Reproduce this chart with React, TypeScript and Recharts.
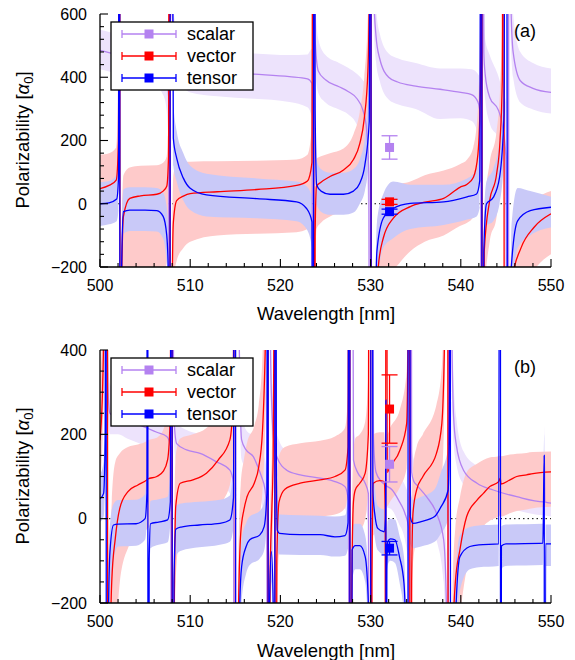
import React from 'react';
import { ComposedChart, Line, Area, Scatter, ErrorBar, XAxis, YAxis } from 'recharts';

const FONT = '"Liberation Sans", Arial, Helvetica, sans-serif';
const SCALAR = '#b482f0';
const VECTOR = '#ff0000';
const TENSOR = '#0000ff';
const SCALAR_BAND = '#ede3fc';
const VECTOR_BAND = '#fecaca';
const TENSOR_BAND = '#c9c9f8';

const seriesNames = ['scalar', 'vector', 'tensor'];

// tick positions
const xTicks = [500, 502, 504, 506, 508, 510, 512, 514, 516, 518, 520, 522, 524, 526, 528, 530, 532, 534, 536, 538, 540, 542, 544, 546, 548, 550];
const xMajor = [500, 510, 520, 530, 540, 550];
const yTicksA = [-200, -160, -120, -80, -40, 0, 40, 80, 120, 160, 200, 240, 280, 320, 360, 400, 440, 480, 520, 560, 600];
const yMajorA = [-200, 0, 200, 400, 600];
const yTicksB = [-200, -150, -100, -50, 0, 50, 100, 150, 200, 250, 300, 350, 400];
const yMajorB = [-200, 0, 200, 400];

// [wavelength, value, band low, band high]
type Row = [number, number, number, number];

// ---- panel (a) ----
const aScalar: Row[] = [
  [500, 485, 425, 550], [501, 478, 418, 543], [502, 470, 410, 535], [503, 463, 402, 528], [505, 452, 390, 516],
  [506, 445, 380, 510], [506.8, 432, 355, 502], [507.3, 410, 315, 492], [507.6, 340, 190, 470], [507.72, -3000, -3100, -2900],
  [507.8, 3000, 2900, 3100], [507.95, 650, 560, 800], [508.2, 520, 450, 600], [508.6, 465, 400, 540], [509.2, 440, 370, 505],
  [510, 428, 352, 490], [513, 418, 340, 480], [517, 410, 332, 475], [521, 402, 322, 470], [523, 395, 305, 472],
  [523.5, 380, 270, 490], [523.66, -3000, -3100, -2900],
  [523.74, 3000, 2900, 3100], [523.85, 520, 430, 650], [524.2, 420, 350, 520], [525, 392, 320, 470], [526.5, 370, 298, 445],
  [527.5, 355, 283, 430], [528.5, 332, 248, 410], [529.1, 300, 195, 392], [529.5, 250, 120, 375], [529.8, 100, -120, 310],
  [529.95, -3000, -3100, -2900],
  [530.05, 3000, 2900, 3100], [530.3, 700, 600, 850], [530.6, 530, 450, 620], [531, 460, 390, 540], [532, 400, 330, 475],
  [533, 385, 315, 460], [535, 372, 300, 445], [537.7, 362, 268, 428], [540, 352, 270, 428], [541.2, 345, 262, 425],
  [541.9, 322, 220, 410], [542.2, 270, 110, 390], [542.33, -3000, -3100, -2900],
  [542.4, 3000, 2900, 3100], [542.55, 480, 390, 620], [542.7, 410, 330, 520], [543.2, 337, 255, 470], [544.2, 294, 200, 400],
  [544.5, 263, 150, 370], [545.0, 150, -20, 320], [545.25, -3000, -3100, -2900],
  [545.35, 3000, 2900, 3100], [545.5, 700, 560, 900], [545.8, 480, 400, 600], [546.6, 389, 320, 480], [548, 365, 298, 445],
  [550, 352, 285, 428],
];

const aVector: Row[] = [
  [500, 48, -60, 155], [501, 58, -50, 160], [501.8, 75, -40, 178], [502.05, 200, 50, 400], [502.17, 3000, 2900, 3100],
  [502.25, -3000, -3100, -2900], [502.4, -250, -450, -100], [502.6, -40, -240, 90], [503.3, 17, -235, 115], [504.5, 25, -232, 120],
  [506.3, 30, -228, 122], [507.0, 40, -215, 130], [507.4, 55, -185, 150], [507.6, 150, -100, 300], [507.72, 3000, 2900, 3100],
  [507.82, -3000, -3100, -2900], [508.0, -300, -600, -120], [508.13, -60, -250, 90], [508.5, 10, -180, 130], [509.24, 24, -140, 132],
  [510, 32, -120, 133], [513, 38, -100, 134], [517.4, 45, -95, 136], [521.8, 58, -90, 140], [523, 72, -80, 155],
  [523.5, 130, -40, 250], [523.66, 3000, 2900, 3100],
  [523.74, -3000, -3100, -2900], [523.85, -100, -300, 40], [524.0, 55, -80, 142], [524.5, 68, -60, 150], [525.5, 86, -40, 160],
  [527, 107, -20, 175], [528.1, 140, 10, 220], [528.8, 190, 60, 290], [529.3, 270, 130, 400], [529.7, 420, 250, 600],
  [529.9, 800, 600, 1200], [530.02, 3000, 2900, 3100],
  [530.1, -3000, -3100, -2900], [530.5, -600, -900, -400], [530.85, -200, -350, -70], [531.4, -109, -240, 10], [532.5, -46, -210, 55],
  [534.4, -9, -150, 70], [536, 5, -120, 90], [538.1, 17, -100, 105], [539.9, 52, -70, 125], [540.7, 62, -60, 140],
  [541.4, 84, -40, 180], [541.9, 157, 20, 300], [542.2, 389, 200, 700], [542.32, 3000, 2900, 3100],
  [542.38, -3000, -3100, -2900], [542.6, -150, -300, -30], [543.2, 10, -120, 130], [543.97, 94, -40, 230], [544.35, 200, 60, 360],
  [544.6, 389, 250, 600], [544.75, 3000, 2900, 3100],
  [544.85, -3000, -3100, -2900], [545.2, -800, -1100, -600], [545.6, -250, -400, -150], [546.7, -138, -280, -40], [548.1, -75, -210, 10],
  [550, -32, -160, 40],
];

const aTensor: Row[] = [
  [500, 0, -70, 68], [501, 3, -65, 72], [501.85, 15, -55, 92], [502.05, 80, -20, 200], [502.15, 3000, 2900, 3100],
  [502.25, -3000, -3100, -2900], [502.4, -200, -350, -120], [502.6, -25, -95, 45], [503.3, -20, -86, 52], [505, -20, -86, 52],
  [506.3, -22, -88, 50], [507.0, -40, -110, 35], [507.4, -100, -190, -10], [507.6, -250, -400, -120], [507.72, -3000, -3100, -2900],
  [507.82, 3000, 2900, 3100], [508.13, 207, 120, 320], [508.5, 144, 70, 230], [509.24, 81, 10, 160], [510, 49, -20, 120],
  [511.8, 28, -40, 95], [517.4, 16, -46, 80], [521.8, 6, -55, 70], [522.9, -15, -80, 55], [523.5, -57, -140, 20],
  [523.63, -3000, -3100, -2900],
  [523.72, 3000, 2900, 3100], [523.85, 300, 200, 450], [524.02, 59, 0, 140], [524.5, 40, -25, 110], [525.5, 30, -35, 98],
  [527, 30, -35, 98], [528.1, 40, -28, 110], [528.8, 65, 0, 140], [529.36, 122, 40, 210], [529.85, 260, 150, 420],
  [530.0, 3000, 2900, 3100],
  [530.1, -3000, -3100, -2900], [530.5, -500, -800, -350], [530.7, -150, -280, -60], [531.4, -46, -140, 30], [532.5, -15, -109, 70],
  [534.4, 1, -80, 60], [538.1, 6, -67, 60], [540.7, 22, -50, 80], [541.75, 31, -40, 110], [542.1, 73, -10, 200],
  [542.3, 3000, 2900, 3100],
  [542.37, -3000, -3100, -2900], [542.55, -150, -300, -50], [542.85, 0, -70, 70], [543.6, 20, -55, 110], [544.3, 84, 0, 200],
  [544.8, 284, 150, 450], [544.95, 3000, 2900, 3100],
  [545.35, -3000, -3100, -2900], [545.6, -200, -350, -80], [546.3, -54, -140, 50], [547.7, -22, -100, 40], [550, -11, -75, 22],
];

// measured points at 532 nm: [wavelength, value, error]
const aMeasured: [number, number, number][] = [[532.1, 178, 37], [532.1, 6, 8], [532.1, -25, 8]];

// ---- panel (b) ----
const bScalar: Row[] = [
  [500, 1200, 1100, 1400], [500.6, 3000, 2900, 3100], [500.75, 600, 480, 800], [500.9, 300, 240, 400], [501.1, 250, 200, 320],
  [502, 238, 200, 290], [503, 230, 190, 275], [504.4, 222, 178, 265], [505.2, 215, 170, 258], [506.3, 205, 160, 250],
  [507.4, 195, 148, 240], [507.85, 170, 100, 225], [507.97, -3000, -3100, -2900],
  [508.03, 3000, 2900, 3100], [508.15, 260, 200, 350], [508.5, 178, 128, 228], [509.6, 163, 115, 210], [511.1, 155, 105, 200],
  [512.9, 135, 85, 185], [514.4, 115, 60, 170], [514.8, 84, 0, 150], [514.95, -3000, -3100, -2900],
  [515.1, 3000, 2900, 3100], [515.35, 600, 450, 800], [515.7, 187, 140, 250], [516.2, 163, 120, 210], [517.0, 147, 100, 195],
  [517.5, 123, 75, 175], [517.9, 100, 40, 160], [518.3, 68, -20, 140], [518.5, 5, -150, 100], [518.6, -3000, -3100, -2900],
  [518.7, 3000, 2900, 3100], [518.9, 400, 300, 550], [519.2, 200, 150, 280], [519.6, 147, 105, 200], [520.7, 115, 75, 160],
  [522.2, 104, 65, 150], [524.4, 96, 55, 140], [526.05, 88, 45, 135], [527.16, 76, 25, 130], [527.55, 40, -50, 110],
  [527.68, -3000, -3100, -2900],
  [527.75, 3000, 2900, 3100], [528.1, 139, 90, 220], [528.6, 108, 60, 165], [529.4, 84, 30, 140], [529.75, 60, -20, 130],
  [529.95, -3000, -3100, -2900],
  [530.05, 3000, 2900, 3100], [530.3, 200, 140, 300], [530.6, 110, 60, 170], [531.2, 88, 40, 140], [531.6, 80, 30, 130],
  [532.4, 68, 20, 120], [533.1, 44, -10, 100], [533.8, 13, -50, 80], [534.2, -20, -120, 50], [534.3, -3000, -3100, -2900],
  [534.4, 3000, 2900, 3100], [534.55, 110, 60, 170], [534.8, 88, 40, 140], [535.1, 80, 30, 130], [536.2, 52, 0, 110],
  [537.3, 13, -50, 80], [538.1, -50, -150, 30], [538.4, -200, -400, -80], [538.55, -3000, -3100, -2900],
  [538.7, 3000, 2900, 3100], [538.9, 700, 500, 1000], [539.2, 242, 180, 330], [539.5, 175, 130, 240], [540.3, 115, 80, 160],
  [541.8, 84, 50, 125], [543.6, 68, 35, 108], [546.2, 52, 20, 90], [549.2, 40, 8, 78], [549.27, 150, 100, 220],
  [549.32, 40, 8, 78], [550, 37, 5, 75],
];

const bVector: Row[] = [
  [500, 186, 90, 330], [500.3, 320, 200, 500], [500.55, 700, 500, 1000], [500.8, 3000, 2900, 3100],
  [500.88, -3000, -3100, -2900], [501.0, -600, -900, -380], [501.3, -150, -400, 40], [501.7, -46, -300, 135], [502.2, 25, -150, 155],
  [503.1, 64, -70, 170], [504.2, 80, -40, 176], [505.2, 92, -25, 184], [505.3, 94, -22, 186], [506.3, 100, -12, 192],
  [507.0, 112, 0, 210], [507.5, 140, 30, 260], [507.8, 250, 120, 450], [507.95, 3000, 2900, 3100],
  [508.05, -3000, -3100, -2900], [508.2, -300, -600, -100], [508.4, 30, -150, 150], [508.9, 84, -40, 190], [510.3, 92, -20, 200],
  [511.8, 108, 0, 215], [513.1, 139, 30, 250], [514.4, 187, 80, 320], [514.8, 300, 170, 500], [514.97, 3000, 2900, 3100],
  [515.05, -3000, -3100, -2900], [515.3, -300, -500, -150], [515.6, -35, -180, 80], [515.95, 21, -110, 140], [516.3, 52, -70, 180],
  [517.1, 84, -30, 220], [517.6, 123, 0, 270], [518.0, 203, 60, 380], [518.4, 500, 300, 800], [518.55, 3000, 2900, 3100],
  [518.7, -3000, -3100, -2900], [518.85, -150, -300, 0], [519.05, 20, -120, 150], [519.2, 150, 20, 300], [519.3, 500, 300, 800],
  [519.37, 3000, 2900, 3100],
  [519.45, -3000, -3100, -2900], [519.6, -100, -250, 20], [519.85, 40, -80, 150], [520.5, 70, -30, 170], [522.2, 84, 0, 179],
  [524.4, 92, 5, 185], [526.05, 100, 10, 195], [527.16, 115, 25, 215], [527.5, 170, 70, 300], [527.65, 3000, 2900, 3100],
  [527.75, -3000, -3100, -2900], [527.9, -200, -400, -50], [528.1, 40, -100, 160], [528.3, 68, -50, 190], [528.8, 84, -30, 200],
  [529.4, 108, 0, 230], [529.75, 200, 80, 350], [529.95, 3000, 2900, 3100],
  [530.05, -3000, -3100, -2900], [530.15, -150, -300, 0], [530.3, 84, -40, 200], [531.0, 90, -30, 205], [531.5, 88, -30, 205],
  [531.62, 20, -100, 150], [531.66, -3000, -3100, -2900],
  [531.7, 3000, 2900, 3100], [531.85, 110, 30, 200], [532.15, 123, 40, 215], [533.26, 163, 75, 260], [534.0, 226, 120, 350],
  [534.2, 600, 400, 900], [534.3, 3000, 2900, 3100],
  [534.4, -3000, -3100, -2900], [534.55, -150, -300, -30], [534.7, 13, -110, 120], [535.1, 68, -50, 170], [535.8, 100, -10, 200],
  [537.3, 155, 40, 270], [537.9, 226, 100, 360], [538.25, 500, 350, 800], [538.5, 3000, 2900, 3100],
  [538.65, -3000, -3100, -2900], [539.1, -300, -500, -150], [539.4, -150, -330, -20], [539.9, -74, -230, 50], [540.65, 5, -120, 110],
  [541.8, 44, -50, 130], [542.5, 60, -19, 139], [543.2, 76, -5, 145], [544.2, 88, 5, 148], [544.38, 96, 8, 150],
  [544.45, 82, 5, 148], [545.45, 92, 13, 152], [546.2, 100, 18, 154], [547.3, 104, 22, 156], [548, 107, 25, 158],
  [550, 111, 28, 159],
];

const bTensor: Row[] = [
  [500, 47, -8, 105], [500.4, 60, 5, 135], [500.58, 200, 100, 400], [500.66, 3000, 2900, 3100],
  [500.72, -3000, -3100, -2900], [500.9, -300, -500, -160], [501.1, -80, -190, -15], [501.5, -15, -100, 35], [502, -13, -66, 44],
  [504, -12, -64, 45], [505, 0, -50, 58], [505.2, 60, 0, 150], [505.28, 3000, 2900, 3100],
  [505.34, -3000, -3100, -2900], [505.45, -100, -200, -35], [505.6, -12, -70, 42], [506.5, -8, -62, 46], [507.5, -3, -56, 52],
  [507.8, 40, -10, 130], [507.95, 3000, 2900, 3100],
  [508.05, -3000, -3100, -2900], [508.2, -150, -300, -60], [508.4, -25, -88, 30], [509, -20, -76, 36], [511, -15, -68, 40],
  [513.3, -11, -62, 45], [514.4, -3, -55, 55], [514.8, 50, -20, 150], [514.96, 3000, 2900, 3100],
  [515.1, -3000, -3100, -2900], [515.5, -200, -340, -110], [515.7, -114, -200, -50], [516.2, -66, -130, -10], [516.6, -50, -110, 5],
  [517.7, -39, -95, 18], [518.2, -19, -75, 40], [518.5, 60, 0, 150], [518.6, 3000, 2900, 3100],
  [518.68, -3000, -3100, -2900], [518.8, -200, -340, -110], [519.0, -78, -150, -30], [519.2, -200, -310, -110],
  [519.35, -3000, -3100, -2900],
  [519.42, 3000, 2900, 3100], [519.55, 150, 80, 300], [519.65, -27, -75, 20], [519.9, -35, -85, 10], [522.2, -38, -86, 8],
  [524.4, -38, -86, 7], [526.05, -43, -90, 5], [527.16, -40, -88, 8], [527.5, -10, -70, 50], [527.65, 3000, 2900, 3100],
  [527.75, -3000, -3100, -2900], [527.95, -74, -150, -20], [528.3, -64, -120, -12], [528.8, -64, -120, -12], [529.4, -90, -150, -40],
  [529.75, -200, -300, -130], [529.95, -3000, -3100, -2900],
  [530.08, 3000, 2900, 3100], [530.25, 68, 0, 150], [530.5, 5, -50, 70], [530.8, -23, -75, 30], [531.5, -31, -85, 22],
  [531.65, 0, -60, 60], [531.7, 281, 200, 350], [531.72, -3000, -3100, -2900],
  [531.8, -120, -200, -60], [531.9, -55, -110, -5], [532.2, -48, -100, 0], [532.7, -50, -105, -2], [533.2, -90, -150, -40],
  [533.7, -153, -230, -90], [534.0, -400, -550, -300], [534.1, -3000, -3100, -2900],
  [534.2, 3000, 2900, 3100], [534.4, 5, -60, 80], [534.7, -11, -70, 45], [535.6, -7, -66, 52], [537.1, 5, -55, 70],
  [537.8, 28, -35, 110], [538.6, 68, 0, 170], [538.75, 300, 200, 500], [538.8, 3000, 2900, 3100],
  [538.9, -3000, -3100, -2900], [539.4, -250, -400, -150], [539.9, -90, -170, -40], [541.0, -66, -120, -20], [542, -62, -115, -16],
  [544.2, -60, -112, -14], [544.38, 3000, 2900, 3100],
  [544.42, -3000, -3100, -2900], [544.5, -65, -118, -18], [545, -60, -112, -14], [549.1, -58, -110, -12], [549.25, 150, 100, 200],
  [549.3, -3000, -3100, -2900], [549.4, -60, -112, -14], [550, -60, -112, -14],
];

const bMeasured: [number, number, number][] = [[532.1, 129, 42], [532.1, 260, 81], [532.1, -70, 16]];

const zeroLine = [{ wl: 500, z: 0 }, { wl: 550, z: 0 }];

const toPoints = (rows: Row[]) => rows.map(([wl, v, lo, hi]) => ({ wl, v, band: [lo, hi] }));
const fmt = (v: number) => (v < 0 ? `\u2212${Math.abs(v)}` : `${v}`);
const frame = { stroke: '#000', strokeWidth: 1.3 };

const bottomTick = (p: any) => {
  const { x, y, payload } = p;
  const major = xMajor.includes(payload.value);
  return (
    <g>
      <line x1={x} x2={x} y1={y} y2={y - (major ? 8 : 4)} stroke="#000" strokeWidth={1.1} />
      {major && (
        <text x={x} y={y + 24} textAnchor="middle" fontSize={16} fontFamily={FONT} fill="#000">
          {payload.value}
        </text>
      )}
    </g>
  );
};

const topTick = (p: any) => {
  const { x, y, payload } = p;
  const major = xMajor.includes(payload.value);
  return <line x1={x} x2={x} y1={y} y2={y + (major ? 8 : 4)} stroke="#000" strokeWidth={1.1} />;
};

const leftTick = (majors: number[]) => (p: any) => {
  const { x, y, payload } = p;
  const major = majors.includes(payload.value);
  return (
    <g>
      <line x1={x} x2={x + (major ? 8 : 4)} y1={y} y2={y} stroke="#000" strokeWidth={1.1} />
      {major && (
        <text x={x - 13} y={y} dy="0.36em" textAnchor="end" fontSize={16} fontFamily={FONT} fill="#000">
          {fmt(payload.value)}
        </text>
      )}
    </g>
  );
};

const rightTick = (majors: number[]) => (p: any) => {
  const { x, y, payload } = p;
  const major = majors.includes(payload.value);
  return <line x1={x} x2={x - (major ? 8 : 4)} y1={y} y2={y} stroke="#000" strokeWidth={1.1} />;
};

const squareShape = (color: string) => (p: any) => (
  <rect x={p.cx - 4.5} y={p.cy - 4.5} width={9} height={9} fill={color} />
);

interface PanelProps {
  scalar: Row[];
  vector: Row[];
  tensor: Row[];
  measured: [number, number, number][];
  yDomain: [number, number];
  yTicks: number[];
  yMajor: number[];
  top: number;
  marginTop: number;
  xAxisHeight: number;
}

function Panel({ scalar, vector, tensor, measured, yDomain, yTicks, yMajor, top, marginTop, xAxisHeight }: PanelProps) {
  const colors = [SCALAR, VECTOR, TENSOR];
  const bands = [SCALAR_BAND, VECTOR_BAND, TENSOR_BAND];
  const series = [scalar, vector, tensor].map(toPoints);
  return (
    <div style={{ position: 'absolute', left: 0, top }}>
      <ComposedChart width={575} height={330} margin={{ top: marginTop, right: 24, bottom: 0, left: 0 }}>
        <XAxis
          dataKey="wl"
          type="number"
          domain={[500, 550]}
          allowDataOverflow
          ticks={xTicks}
          interval={0}
          tickSize={0}
          tickMargin={0}
          tickLine={false}
          tick={bottomTick}
          height={xAxisHeight}
          axisLine={frame}
        />
        <XAxis
          xAxisId="t"
          orientation="top"
          dataKey="wl"
          type="number"
          domain={[500, 550]}
          allowDataOverflow
          ticks={xTicks}
          interval={0}
          tickSize={0}
          tickMargin={0}
          tickLine={false}
          tick={topTick}
          height={0}
          axisLine={frame}
        />
        <YAxis
          type="number"
          domain={yDomain}
          allowDataOverflow
          ticks={yTicks}
          interval={0}
          tickSize={0}
          tickMargin={0}
          tickLine={false}
          tick={leftTick(yMajor)}
          width={100}
          axisLine={frame}
        />
        <YAxis
          yAxisId="r"
          orientation="right"
          type="number"
          domain={yDomain}
          allowDataOverflow
          ticks={yTicks}
          interval={0}
          tickSize={0}
          tickMargin={0}
          tickLine={false}
          tick={rightTick(yMajor)}
          width={0}
          axisLine={frame}
        />
        <Area
          xAxisId="t"
          yAxisId="r"
          data={zeroLine}
          dataKey="z"
          type="linear"
          stroke="#000"
          strokeWidth={1}
          strokeDasharray="1.5 3"
          fill="none"
          isAnimationActive={false}
        />
        {series.map((pts, i) => (
          <Area
            key={`band-${i}`}
            data={pts}
            dataKey="band"
            type="monotoneX"
            stroke="none"
            fill={bands[i]}
            fillOpacity={1}
            isAnimationActive={false}
          />
        ))}
        {series.map((pts, i) => (
          <Line
            key={`line-${i}`}
            data={pts}
            dataKey="v"
            type="monotoneX"
            stroke={colors[i]}
            strokeWidth={1.3}
            dot={false}
            isAnimationActive={false}
          />
        ))}
        {measured.map(([wl, v, e], i) => (
          <Scatter
            key={`pt-${i}`}
            data={[{ wl, v, e }]}
            dataKey="v"
            fill={colors[i]}
            shape={squareShape(colors[i])}
            isAnimationActive={false}
          >
            <ErrorBar dataKey="e" direction="y" width={8} stroke={colors[i]} strokeWidth={1.3} />
          </Scatter>
        ))}
      </ComposedChart>
    </div>
  );
}

function LegendBox({ x, y }: { x: number; y: number }) {
  const colors = [SCALAR, VECTOR, TENSOR];
  return (
    <g>
      <rect x={x} y={y} width={142} height={68} fill="#fff" stroke="#000" strokeWidth={1.3} />
      {seriesNames.map((name, i) => {
        const cy = y + 12 + i * 22;
        const c = colors[i];
        return (
          <g key={name}>
            <line x1={x + 11} x2={x + 65} y1={cy} y2={cy} stroke={c} strokeWidth={1.3} />
            <line x1={x + 11} x2={x + 11} y1={cy - 4} y2={cy + 4} stroke={c} strokeWidth={1.3} />
            <line x1={x + 65} x2={x + 65} y1={cy - 4} y2={cy + 4} stroke={c} strokeWidth={1.3} />
            <rect x={x + 33.5} y={cy - 4.5} width={9} height={9} fill={c} />
            <text x={x + 76} y={cy} dy="0.36em" fontSize={18} fontFamily={FONT} fill="#000">
              {name}
            </text>
          </g>
        );
      })}
    </g>
  );
}

function YTitle({ cy }: { cy: number }) {
  return (
    <text transform={`translate(29, ${cy}) rotate(-90)`} textAnchor="middle" fontSize={18.5} fontFamily={FONT} fill="#000">
      Polarizability [<tspan fontStyle="italic">α</tspan>
      <tspan dy={4} fontSize={13}>0</tspan>
      <tspan dy={-4}>]</tspan>
    </text>
  );
}

export default function App() {
  return (
    <div style={{ position: 'absolute', left: 0, top: 0, width: 575, height: 660, background: '#fff', fontFamily: FONT }}>
      <Panel
        scalar={aScalar}
        vector={aVector}
        tensor={aTensor}
        measured={aMeasured}
        yDomain={[-200, 600]}
        yTicks={yTicksA}
        yMajor={yMajorA}
        top={0}
        marginTop={14}
        xAxisHeight={63}
      />
      <Panel
        scalar={bScalar}
        vector={bVector}
        tensor={bTensor}
        measured={bMeasured}
        yDomain={[-200, 400]}
        yTicks={yTicksB}
        yMajor={yMajorB}
        top={330}
        marginTop={20}
        xAxisHeight={57}
      />
      <svg width={575} height={660} style={{ position: 'absolute', left: 0, top: 0, pointerEvents: 'none' }}>
        <LegendBox x={111} y={22} />
        <LegendBox x={111} y={358} />
        <text x={525} y={31} dy="0.36em" textAnchor="middle" fontSize={18} fontFamily={FONT} fill="#000">(a)</text>
        <text x={525} y={367} dy="0.36em" textAnchor="middle" fontSize={18} fontFamily={FONT} fill="#000">(b)</text>
        <YTitle cy={140} />
        <YTitle cy={476} />
        <text x={326} y={320} textAnchor="middle" fontSize={18.5} fontFamily={FONT} fill="#000">Wavelength [nm]</text>
        <text x={326} y={657} textAnchor="middle" fontSize={18.5} fontFamily={FONT} fill="#000">Wavelength [nm]</text>
      </svg>
    </div>
  );
}
